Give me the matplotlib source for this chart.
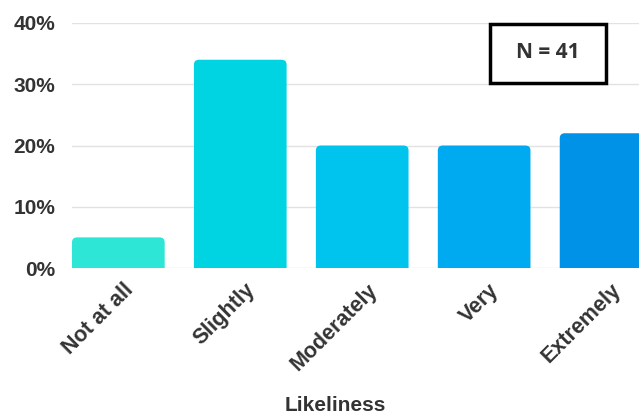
import matplotlib
matplotlib.use("Agg")
import matplotlib.pyplot as plt
from matplotlib.patches import FancyBboxPatch, Rectangle
from matplotlib.ticker import FuncFormatter
import matplotlib.transforms as mtransforms

categories = ["Not at all", "Slightly", "Moderately", "Very", "Extremely"]
percent = [5, 34, 20, 20, 22]
colors = ["#2DE6D5", "#00D4E3", "#00C4EE", "#00AAF0", "#0092E6"]
yticks = [0, 10, 20, 30, 40]
n_text = "N = 41"

plt.rcParams["font.family"] = ["Liberation Sans", "DejaVu Sans"]

fig = plt.figure(figsize=(6.39, 4.15), dpi=100)
ax = fig.add_axes([72 / 639, 147 / 415, 1 - 72 / 639, 245 / 415])

x = list(range(len(categories)))
bars = ax.bar(x, percent, width=0.76, color=colors)

ax.set_xlim(-0.38, 4.27)
ax.set_ylim(0, 40)

# rounded tops: swap the plain bars for rounded patches pushed below 0
x_per_px = (4.27 + 0.38) / 567
y_per_px = 40 / 245
for b in bars:
    bx, bw, bh = b.get_x(), b.get_width(), b.get_height()
    p = FancyBboxPatch((bx, -3), bw, bh + 3,
                       boxstyle="round,pad=0,rounding_size=%f" % (5 * x_per_px),
                       mutation_aspect=y_per_px / x_per_px,
                       facecolor=b.get_facecolor(), edgecolor="none", zorder=2)
    ax.add_patch(p)
    b.remove()

ax.set_yticks(yticks)
ax.yaxis.set_major_formatter(FuncFormatter(lambda v, pos: "%d%%" % v))
ax.grid(axis="y", color="#e2e2e2", linewidth=1)
ax.set_axisbelow(True)
for s in ax.spines.values():
    s.set_visible(False)
ax.tick_params(length=0, labelsize=15, colors="#333333", pad=12)
for lbl in ax.get_yticklabels():
    lbl.set_fontweight("bold")

# category labels as plain text so they can be nudged
ax.set_xticks(x)
ax.set_xticklabels([])
offset = mtransforms.ScaledTranslation(12 / 100, -19 / 100, fig.dpi_scale_trans)
for xi, name in zip(x, categories):
    ax.text(xi, 0, name, transform=ax.get_xaxis_transform() + offset,
            rotation=45, ha="right", va="center", rotation_mode="anchor",
            fontweight="bold", fontsize=15.5, color="#333333", clip_on=False)

fig.text(335 / 639, 1 - 405 / 415, "Likeliness", ha="center", va="center",
         fontsize=15, fontweight="bold", color="#333333")

# N box
fig.add_artist(Rectangle((490 / 639, 1 - 83 / 415), 116 / 639, 59 / 415,
                         transform=fig.transFigure, fill=False,
                         edgecolor="black", linewidth=2.5))
fig.text(548 / 639, 1 - 53 / 415, n_text, ha="center", va="center",
         fontsize=15, fontweight="bold", color="#333333", family=["Open Sans", "DejaVu Sans"])

fig.savefig("out.png", dpi=100)
